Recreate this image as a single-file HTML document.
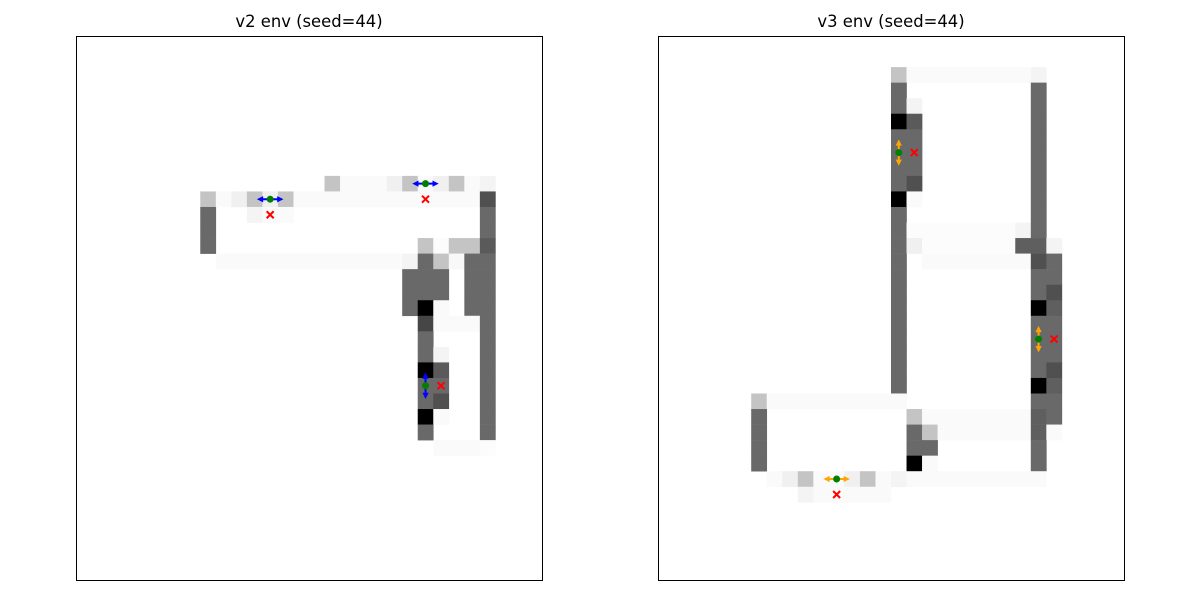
<!DOCTYPE html>
<html><head><meta charset="utf-8"><style>
body{margin:0;background:#fff;}
svg{display:block;}
text{font-family:"DejaVu Sans","Liberation Sans",sans-serif;}
</style></head><body>
<svg id="s" width="1200" height="600">
<rect width="1200" height="600" fill="#fff"/>
<text x="309" y="27" font-size="16.4" text-anchor="middle">v2 env (seed=44)</text>
<text x="891" y="27" font-size="16.4" text-anchor="middle">v3 env (seed=44)</text>
<g id="p1"></g>
<g id="p2"></g>
<rect x="76.5" y="36.5" width="466" height="544" fill="none" stroke="#000"/>
<rect x="658.5" y="36.5" width="466" height="544" fill="none" stroke="#000"/>
</svg>
<script>
// cells: "row:colStart-colEnd:gray"
const v2Cells = ["9:16-16:196","9:17-19:250","9:20-20:240","9:21-21:196","9:22-22:250","9:23-23:240","9:24-24:196","9:25-25:250","9:26-26:244",
"10:8-8:196","10:9-9:250","10:10-10:240","10:11-11:196","10:12-12:240","10:13-13:196","10:14-25:250","10:26-26:80",
"11:8-8:105","11:11-11:244","11:12-13:250","11:26-26:105","12:8-8:105","12:26-26:105",
"13:8-8:105","13:22-22:196","13:23-23:252","13:24-25:196","13:26-26:90",
"14:9-20:250","14:21-21:244","14:22-22:105","14:23-23:196","14:24-24:248","14:25-26:105",
"15:21-23:105","15:25-26:105","16:21-23:105","16:25-26:105",
"17:21-21:105","17:22-22:0","17:23-23:250","17:25-26:105",
"18:22-22:70","18:23-25:250","18:26-26:105","19:22-22:105","19:26-26:105",
"20:22-22:105","20:23-23:244","20:26-26:105","21:22-22:0","21:23-23:90","21:26-26:105",
"22:22-23:105","22:26-26:105","23:22-22:105","23:23-23:80","23:26-26:105",
"24:22-22:0","24:23-23:250","24:26-26:105","25:22-22:105","25:26-26:105","26:23-25:250","26:26-26:252"];
const v3Cells = ["2:15-15:196","2:16-23:250","2:24-24:244","3:15-15:105","3:24-24:105",
"4:15-15:105","4:16-16:244","4:24-24:105","5:15-15:0","5:16-16:90","5:24-24:105",
"6:15-16:105","6:24-24:105","7:15-16:105","7:24-24:105","8:15-16:105","8:24-24:105",
"9:15-15:105","9:16-16:80","9:24-24:105","10:15-15:0","10:16-16:250","10:24-24:105",
"11:15-15:105","11:24-24:105","12:15-15:105","12:16-22:252","12:23-23:244","12:24-24:105",
"13:15-15:105","13:16-16:240","13:17-22:252","13:23-24:95","13:25-25:244",
"14:15-15:105","14:17-23:250","14:24-24:80","14:25-25:105",
"15:15-15:105","15:24-25:105","16:15-15:105","16:24-24:105","16:25-25:80",
"17:15-15:105","17:24-24:0","17:25-25:95","18:15-15:105","18:24-25:105","19:15-15:105","19:24-25:105",
"20:15-15:105","20:24-25:105",
"21:15-15:105","21:24-24:105","21:25-25:80","22:15-15:105","22:24-24:0","22:25-25:95",
"23:6-6:196","23:7-15:250","23:24-25:105","24:6-6:105","24:16-16:196","24:17-23:250","24:24-24:95","24:25-25:105",
"25:6-6:105","25:16-16:105","25:17-17:196","25:18-23:250","25:24-24:95","25:25-25:250",
"26:6-6:105","26:16-17:105","26:24-24:105","27:6-6:105","27:16-16:0","27:17-17:250","27:24-24:105",
"28:7-7:250","28:8-8:240","28:9-9:196","28:10-11:250","28:12-12:240","28:13-13:196","28:14-14:250","28:15-15:244","28:16-24:250",
"29:9-9:244","29:10-14:250"];
// agents: [row, col, orientation], goals: [row, col]
const v2Agents = [[10,12.5,"h"],[9,22.5,"h"],[22,22.5,"v"]];
const v2Goals = [[11,12.5],[10,22.5],[22,23.5]];
const v3Agents = [[7,15.5,"v"],[19,24.5,"v"],[28,11.5,"h"]];
const v3Goals = [[7,16.5],[19,25.5],[29,11.5]];
const NS="http://www.w3.org/2000/svg";
const CW=466/30, CH=544/35;
function draw(gid,x0,cells,agents,goals,color){
  const g=document.getElementById(gid);
  cells.forEach(s=>{
    const [r,cs,v]=s.split(":");const [a,b]=cs.split("-").map(Number);
    const el=document.createElementNS(NS,"rect");
    
    
    el.setAttribute("x",x0+a*CW);el.setAttribute("y",36+(+r)*CH);
    el.setAttribute("width",(b-a+1)*CW+0.3);el.setAttribute("height",CH+0.3);
    el.setAttribute("fill",`rgb(${v},${v},${v})`);g.appendChild(el);
  });
  agents.forEach(([r,c,o])=>{
    const cx=x0+c*CW;
    const y=36+(r+0.5)*CH;
    const ar=document.createElementNS(NS,"path");
    
    
    const d=o==="h"?`M${cx-11},${y}H${cx+11}M${cx-11},${y}l3,-1.5v3zM${cx+11},${y}l-3,-1.5v3z`:`M${cx},${y-11}V${y+11}M${cx},${y-11}l-1.5,3h3zM${cx},${y+11}l-1.5,-3h3z`;
    ar.setAttribute("d",d);ar.setAttribute("stroke",color);ar.setAttribute("stroke-width","2");ar.setAttribute("fill",color);
    g.appendChild(ar);
    const dot=document.createElementNS(NS,"circle");
    
    
    dot.setAttribute("cx",cx);dot.setAttribute("cy",y);dot.setAttribute("r","3.5");dot.setAttribute("fill","#008000");
    g.appendChild(dot);
  });
  goals.forEach(([r,c])=>{
    const cx=x0+c*CW, y=36+(r+0.5)*CH;
    const t=document.createElementNS(NS,"path");
    
    
    t.setAttribute("d",`M${cx-3.5},${y-3.5}L${cx+3.5},${y+3.5}M${cx-3.5},${y+3.5}L${cx+3.5},${y-3.5}`);
    t.setAttribute("stroke","#f00");t.setAttribute("stroke-width","2");
    g.appendChild(t);
  });
}
draw("p1",76,v2Cells,v2Agents,v2Goals,"#0000ff");
draw("p2",658,v3Cells,v3Agents,v3Goals,"#ffa500");
</script>
</body></html>
